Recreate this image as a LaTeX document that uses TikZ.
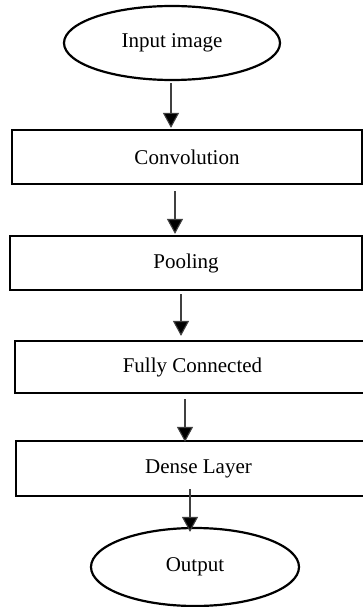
\documentclass[tikz,border=0pt]{standalone}
\usepackage{fontspec}
\setmainfont{Liberation Serif}
\usetikzlibrary{arrows.meta,shapes.geometric,calc}
\tikzset{
  boxnode/.style={draw=black,line width=2.2pt,rectangle,inner sep=0pt,font=\fontsize{21}{25}\selectfont},
  ovalnode/.style={draw=black,line width=2.2pt,ellipse,inner sep=0pt,font=\fontsize{21}{25}\selectfont},
  arr/.style={draw=black!75,line width=1.1pt,-{Triangle[length=15pt,width=16pt,fill=black]}}
}
\begin{document}
\begin{tikzpicture}[x=1pt,y=-1pt]
\fill[white] (0,0) rectangle (363,607);
\useasboundingbox (0,0) rectangle (363,607);
\node[ovalnode,minimum width=216pt,minimum height=74pt] (in) at (172,43) {Input image};
\node[boxnode,minimum width=350pt,minimum height=54pt] (conv) at (187,157) {Convolution};
\node[boxnode,minimum width=352pt,minimum height=54pt] (pool) at (186,263) {Pooling};
\node[boxnode,minimum width=355pt,minimum height=52pt] (fc) at (192.5,367) {Fully Connected};
\node[boxnode,minimum width=365pt,minimum height=55pt] (dense) at (198.5,468.5) {Dense Layer};
\node[ovalnode,minimum width=208pt,minimum height=78pt] (out) at (195,567) {Output};
\draw[arr] ($(in.south)+(-1,2)$) -- ($(conv.north)+(-16,-1)$);
\draw[arr] ($(conv.south)+(-12,6)$) -- ($(pool.north)+(-11,-1)$);
\draw[arr] ($(pool.south)+(-5,3)$) -- ($(fc.north)+(-11.5,-4)$);
\draw[arr] ($(fc.south)+(-7.5,5)$) -- ($(dense.north)+(-13.5,2)$);
\draw[arr] ($(dense.south)+(-8.5,-8)$) -- ($(out.north)+(-5,5)$);
\end{tikzpicture}
\end{document}
